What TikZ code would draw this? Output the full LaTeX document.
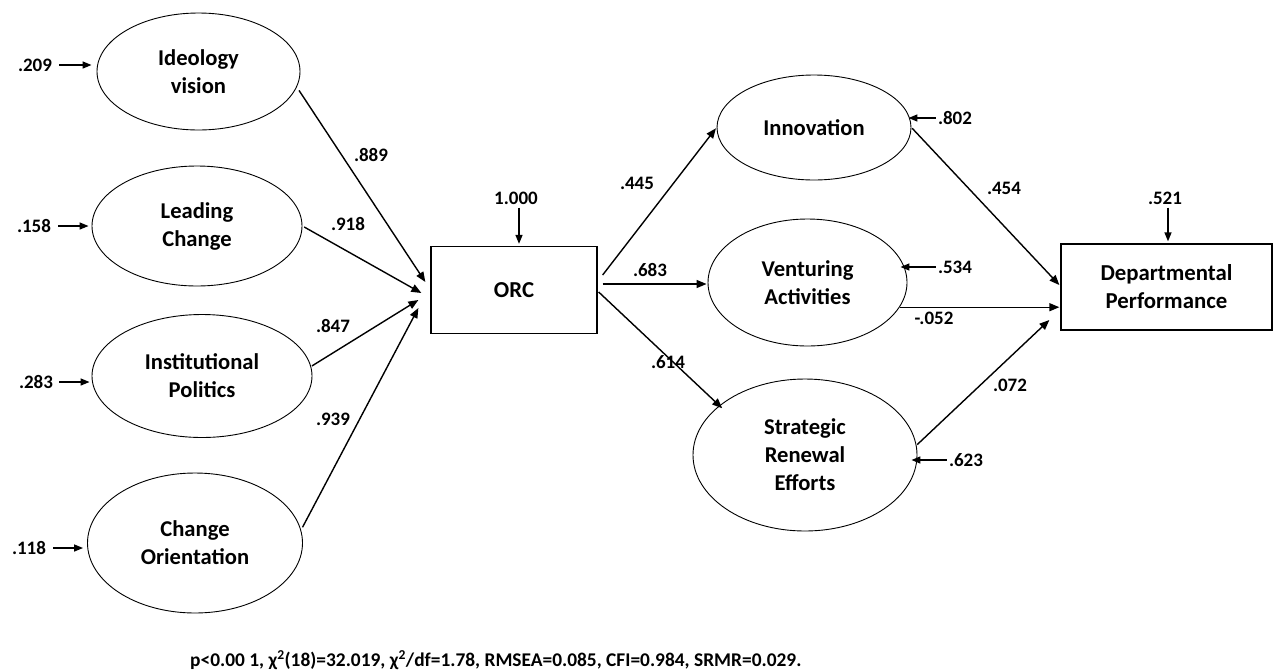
\documentclass[tikz,border=0pt]{standalone}
\usepackage{fontspec}
\setmainfont{Carlito}
\usetikzlibrary{arrows.meta,shapes.geometric}
\begin{document}
\begin{tikzpicture}[x=1pt,y=-1pt,
  latent/.style={ellipse,draw,line width=0.9pt,align=center,inner sep=0pt,
    font=\fontsize{22.6}{28}\selectfont\bfseries},
  observed/.style={rectangle,draw,line width=1.3pt,align=center,inner sep=0pt,
    font=\fontsize{22.8}{28}\selectfont\bfseries},
  coef/.style={font=\fontsize{19}{22}\selectfont\bfseries,inner sep=1pt},
  path/.style={line width=1.4pt,-{Triangle[length=10pt,width=8pt]}},
  resid/.style={line width=1.4pt,-{Triangle[length=9pt,width=7pt]}}]
\useasboundingbox (0,0) rectangle (1279,670);

% exogenous latent factors
\node[latent,minimum width=203pt,minimum height=117pt] (ideo) at (198.5,71.5) {Ideology\\vision};
\node[latent,minimum width=210pt,minimum height=120pt] (lead) at (197,226) {Leading\\Change};
\node[latent,minimum width=220pt,minimum height=123pt] (inst) at (202,376) {Institutional\\Politics};
\node[latent,minimum width=215pt,minimum height=140pt] (chor) at (195,543) {Change\\Orientation};

% mediator
\node[observed,minimum width=166pt,minimum height=87pt] (orc) at (514,290) {ORC};

% outcome factors
\node[latent,minimum width=194pt,minimum height=105pt] (innov) at (814,127.5) {Innovation};
\node[latent,minimum width=199pt,minimum height=127pt] (vent) at (807.5,282.5) {Venturing\\Activities};
\node[latent,minimum width=224pt,minimum height=152pt] (strat) at (805,455) {Strategic\\Renewal\\Efforts};

% final outcome
\node[observed,minimum width=211pt,minimum height=86pt] (dp) at (1166.5,287) {Departmental\\Performance};

% error terms
\node[coef] (e1) at (35,65) {.209};
\node[coef] (e2) at (34,226) {.158};
\node[coef] (e3) at (36,382) {.283};
\node[coef] (e4) at (29,548) {.118};
\node[coef] (e5) at (516,198) {1.000};
\node[coef] (e6) at (955,118) {.802};
\node[coef] (e7) at (955,267) {.534};
\node[coef] (e8) at (966,460) {.623};
\node[coef] (e9) at (1165,198) {.521};

\draw[resid,shorten <=6pt,shorten >=5pt] (e1.east) -- (e1.east -| ideo.west);
\draw[resid,shorten <=6pt,shorten >=3pt] (e2.east) -- (e2.east -| lead.west);
\draw[resid,shorten <=5pt,shorten >=2pt] (e3.east) -- (e3.east -| inst.west);
\draw[resid,shorten <=6pt,shorten >=4pt] (e4.east) -- (e4.east -| chor.west);
\draw[resid,shorten <=2pt,shorten >=2pt] (e5.south -| orc.north) ++(5,0) coordinate (t5) -- (t5 |- orc.north);
\draw[resid,shorten <=1pt] (e6.west) -- ([xshift=-3pt]e6.west -| innov.east);
\draw[resid,shorten <=1pt] (e7.west) -- ([xshift=-7pt]e7.west -| vent.east);
\draw[resid,shorten <=1pt] (e8.west) -- ([xshift=-6pt]e8.west -| strat.east);
\draw[resid,shorten <=2pt,shorten >=2pt] ([xshift=3pt]e9.south) coordinate (t9) -- (t9 |- dp.north);

% arrow targets on the left side of ORC
\coordinate (in1) at ([xshift=-5pt,yshift=8pt]orc.west);
\coordinate (in2) at ([xshift=-9pt,yshift=-3pt]orc.west);
\coordinate (in3) at ([xshift=-12pt,yshift=-10pt]orc.west);
\coordinate (in4) at ([xshift=-12pt,yshift=-18pt]orc.west);

% structural paths into ORC
\draw[path,shorten <=4pt] (ideo.-9) -- (in1);
\draw[path,shorten <=2pt] (lead.east) -- (in2);
\draw[path,shorten <=1pt] (inst.5) -- (in3);
\draw[path,shorten <=3pt] (chor.7) -- (in4);

% paths out of ORC
\coordinate (o1) at ([xshift=5pt,yshift=15pt]orc.east);
\coordinate (o2) at ([xshift=5pt,yshift=6pt]orc.east);
\coordinate (o3) at ([xshift=1pt,yshift=-2pt]orc.east);
\draw[path,shorten >=1pt] (o1) -- (innov.west);
\draw[path,shorten >=1pt] (o2) -- (o2 -| vent.west);
\draw[path,shorten >=-4pt] (o3) -- (strat.150);

% paths into departmental performance
\coordinate (d1) at ([xshift=-1pt,yshift=2pt]dp.west);
\coordinate (d3) at ([xshift=-11pt,yshift=-33pt]dp.west);
\draw[path,shorten <=1pt] (innov.east) -- (d1);
\draw[path] (vent.-15) -- ([xshift=-1pt]vent.-15 -| dp.west);
\draw[path,shorten <=1pt] (strat.5) -- (d3);

% path coefficients
\node[coef] at (371,155) {.889};
\node[coef] at (348,224) {.918};
\node[coef] at (333,326) {.847};
\node[coef] at (333,419) {.939};
\node[coef] at (637,183) {.445};
\node[coef] at (650,270) {.683};
\node[coef] at (668,362) {.614};
\node[coef] at (1004,188) {.454};
\node[coef] at (934,318) {-.052};
\node[coef] at (1010,385) {.072};

% fit indices
\node[anchor=west,inner sep=0pt,font=\fontsize{19.4}{22}\selectfont\bfseries] (fit) at (190,660)
  {p<0.00 1, χ\textsuperscript{2}(18)=32.019, χ\textsuperscript{2}/df=1.78, RMSEA=0.085, CFI=0.984, SRMR=0.029.};
\end{tikzpicture}
\end{document}
